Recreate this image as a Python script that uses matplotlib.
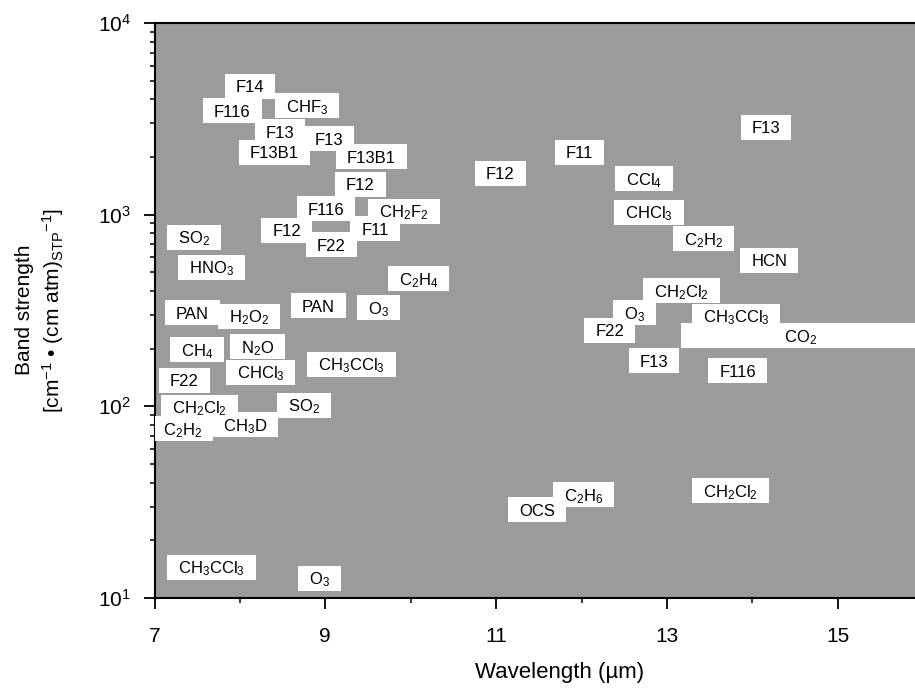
import matplotlib
matplotlib.use('Agg')
import matplotlib.pyplot as plt
from matplotlib.patches import Rectangle
from matplotlib.transforms import ScaledTranslation
from matplotlib.ticker import LogLocator, FixedLocator, NullFormatter

plt.rcParams['font.family'] = ['Liberation Sans', 'DejaVu Sans']
plt.rcParams['mathtext.fontset'] = 'custom'
plt.rcParams['mathtext.rm'] = 'Liberation Sans'
plt.rcParams['mathtext.it'] = 'Liberation Sans:italic'
plt.rcParams['mathtext.bf'] = 'Liberation Sans:bold'
plt.rcParams['mathtext.default'] = 'regular'

# ---- data: absorber labels, band centre wavelength (um), band strength ----
labels = [
    'F14', 'F116', 'CHF$_3$', 'F13', 'F13', 'F13B1', 'F13B1', 'F12', 'F116',
    'CH$_2$F$_2$', 'F12', 'F11', 'F22', 'SO$_2$', 'HNO$_3$', 'C$_2$H$_4$',
    'PAN', 'H$_2$O$_2$', 'PAN', 'O$_3$', 'CH$_4$', 'N$_2$O', 'CHCl$_3$',
    'CH$_3$CCl$_3$', 'F22', 'CH$_2$Cl$_2$', 'SO$_2$', 'C$_2$H$_2$', 'CH$_3$D',
    'CH$_3$CCl$_3$', 'O$_3$', 'F12', 'F11', 'F13', 'CCl$_4$', 'CHCl$_3$',
    'C$_2$H$_2$', 'HCN', 'CH$_2$Cl$_2$', 'O$_3$', 'CH$_3$CCl$_3$', 'F22',
    'F13', 'F116', 'OCS', 'C$_2$H$_6$', 'CH$_2$Cl$_2$',
]
wavelengths = [
    8.12, 7.91, 8.79, 8.47, 9.04, 8.40, 9.54, 9.41, 9.01,
    9.92, 8.55, 9.58, 9.07, 7.46, 7.67, 10.09,
    7.44, 8.11, 8.92, 9.62, 7.50, 8.21, 8.24,
    9.31, 7.35, 7.53, 8.75, 7.33, 8.06,
    7.67, 8.93, 11.05, 11.98, 14.16, 12.73, 12.79,
    13.43, 14.20, 13.17, 12.62, 13.81, 12.33,
    12.85, 13.83, 11.48, 12.02, 13.75,
]
strengths = [
    4690, 3475, 3690, 2700, 2483, 2123, 2000, 1445, 1071,
    1045, 831, 842, 695, 764, 533, 462,
    307, 296, 334, 326, 197, 204, 151,
    166, 137, 99.2, 101.6, 76.2, 80.0,
    14.5, 12.7, 1649, 2123, 2866, 1535, 1032,
    747, 580, 400, 307, 296, 250,
    172.5, 153, 28.8, 34.5, 36.2,
]

# CO2 band: broad band spanning a wavelength range
co2_label = 'CO$_2$'
co2_band = [13.17, 17.0]
co2_strength = 233
co2_text_wavelength = 14.56

x_ticks = [7, 9, 11, 13, 15]
x_minor_ticks = [8, 10, 12, 14]

# ---- figure ----
W, H = 915, 691
fig = plt.figure(figsize=(W / 100, H / 100), dpi=100)
left, right, top, bottom = 154.5, 915, 23, 598
ax = fig.add_axes([left / W, (H - bottom) / H, (right - left) / W, (bottom - top) / H])
ax.set_facecolor('#9b9b9b')
ax.set_yscale('log')
ax.set_xlim(7, 7 + (right - left) / 85.4)
ax.set_ylim(10, 1e4)

ax.set_xticks(x_ticks)
ax.set_xticklabels([str(v) for v in x_ticks])
ax.xaxis.set_minor_locator(FixedLocator(x_minor_ticks))
ax.yaxis.set_major_locator(LogLocator(base=10, numticks=10))
ax.yaxis.set_minor_locator(LogLocator(base=10, subs=range(2, 10), numticks=10))
ax.yaxis.set_minor_formatter(NullFormatter())

ax.tick_params(which='major', direction='out', length=8, width=1.3, labelsize=15, colors='black')
ax.tick_params(which='minor', direction='out', length=3.8, width=1.1)
ax.tick_params(axis='x', which='major', pad=13)
ax.tick_params(axis='y', which='major', pad=9)
ax.spines['right'].set_visible(False)
for s in ['left', 'bottom', 'top']:
    ax.spines[s].set_linewidth(1.5)

ax.set_xlabel('Wavelength (µm)', fontsize=16)
ax.xaxis.set_label_coords((560 - left) / (right - left), -0.112)

fig.text(24 / W, 1 - 310 / H, 'Band strength', rotation=90, ha='center', va='center', fontsize=15)
fig.text(53 / W, 1 - 310 / H,
         r'[cm$^{\mathregular{-1}}$ • (cm atm)$_{\mathregular{STP}}$$^{\mathregular{-1}}$]',
         rotation=90, ha='center', va='center', fontsize=15)

fs = 12
cap = 0.716 * fs / 72.0  # inches
shift = ScaledTranslation(0, -cap / 2, fig.dpi_scale_trans)

texts = []
for s, x, y in zip(labels, wavelengths, strengths):
    t = ax.text(x, y, s, ha='center', va='baseline', fontsize=fs,
                transform=ax.transData + shift, zorder=5)
    texts.append((t, x, y))

co2_t = ax.text(co2_text_wavelength, co2_strength, co2_label, ha='center', va='baseline',
                fontsize=fs, transform=ax.transData + shift, zorder=5)

fig.canvas.draw()
renderer = fig.canvas.get_renderer()
inv = ax.transData.inverted()
box_h = 25.0
padx = 11.0

for t, x, y in texts:
    bb = t.get_window_extent(renderer)
    cx, cy = ax.transData.transform((x, y))
    w = bb.width + 2 * padx
    (x0, y0) = inv.transform((cx - w / 2, cy - box_h / 2))
    (x1, y1) = inv.transform((cx + w / 2, cy + box_h / 2))
    ax.add_patch(Rectangle((x0, y0), x1 - x0, y1 - y0, facecolor='white',
                           edgecolor='none', zorder=3))

cx, cy = ax.transData.transform((co2_band[0], co2_strength))
(_, y0) = inv.transform((cx, cy - box_h / 2))
(_, y1) = inv.transform((cx, cy + box_h / 2))
ax.add_patch(Rectangle((co2_band[0], y0), co2_band[1] - co2_band[0], y1 - y0,
                       facecolor='white', edgecolor='none', zorder=3))

fig.savefig('out.png', dpi=100)
